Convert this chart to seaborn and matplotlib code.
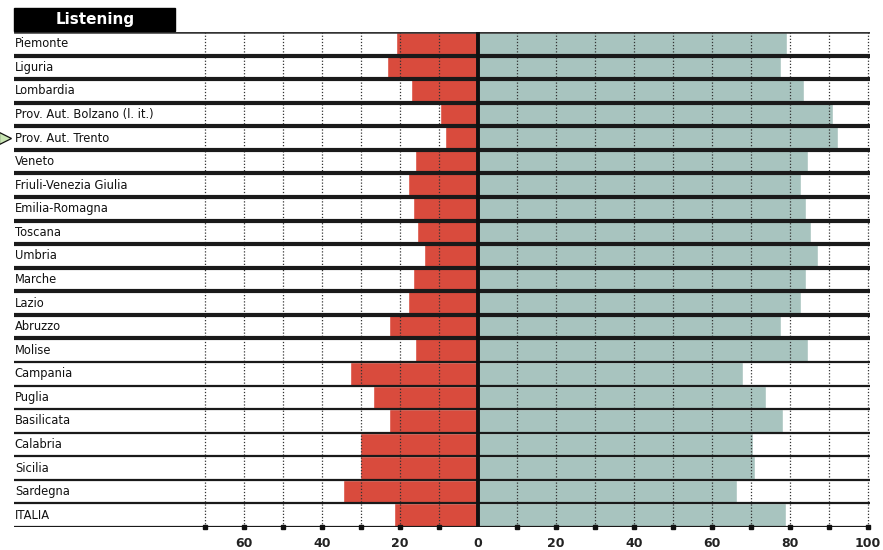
import pandas as pd
import matplotlib
matplotlib.use("Agg")
import matplotlib.pyplot as plt
import matplotlib.transforms as mtransforms
from matplotlib.patches import Rectangle
import seaborn as sns

# Data
regions = ["Piemonte", "Liguria", "Lombardia", "Prov. Aut. Bolzano (l. it.)",
           "Prov. Aut. Trento", "Veneto", "Friuli-Venezia Giulia", "Emilia-Romagna",
           "Toscana", "Umbria", "Marche", "Lazio", "Abruzzo", "Molise", "Campania",
           "Puglia", "Basilicata", "Calabria", "Sicilia", "Sardegna", "ITALIA"]
left_vals = [21.0, 23.3, 17.2, 9.7, 8.5, 16.2, 17.9, 16.7, 15.6, 13.8, 16.7,
             17.9, 22.8, 16.2, 32.8, 26.9, 22.8, 30.3, 30.3, 34.6, 21.5]
right_vals = [79.2, 77.7, 83.6, 91.1, 92.3, 84.6, 83.0, 84.3, 85.4, 87.2, 84.3,
              83.0, 77.7, 84.6, 68.0, 74.0, 78.2, 70.5, 71.0, 66.4, 79.0]
tick_pos = [-60, -40, -20, 0, 20, 40, 60, 80, 100]
tick_labels = ["60", "40", "20", "0", "20", "40", "60", "80", "100"]

red = "#d94b3d"
teal = "#a8c4bf"

df = pd.DataFrame({"region": regions,
                   "left": [-v for v in left_vals],
                   "right": right_vals})

sns.set_style("white")
plt.rcParams["font.family"] = ["DejaVu Sans"]

fig = plt.figure(figsize=(8.83, 5.5), dpi=100)
ax = fig.add_axes([14 / 883, 23 / 550, 856 / 883, 495 / 550])

sns.barplot(data=df, y="region", x="left", color=red, width=1.0,
            saturation=1, orient="h", ax=ax, zorder=1)
sns.barplot(data=df, y="region", x="right", color=teal, width=1.0,
            saturation=1, orient="h", ax=ax, zorder=1)

ax.set_xlim(-119, 100.6)
ax.set_ylim(len(regions) - 0.5, -0.5)

# dotted grid lines
for g in range(-70, 101, 10):
    if g == 0:
        continue
    ax.axvline(g, color="#333333", lw=0.9, ls=(0, (1, 1.5)), zorder=2)
    ax.plot([g], [len(regions) - 0.5], marker="s", ms=2.5, color="#111111",
            clip_on=False, zorder=4)

# row separators
n_thick = 13
for i in range(len(regions)):
    lw = 3.0 if i < n_thick else 1.6
    ax.axhline(i + 0.5, color="#1a1a1a", lw=lw, zorder=3)
ax.axhline(-0.5, color="#333333", lw=1.8, zorder=3)

# zero line
ax.axvline(0, color="#111111", lw=2.8, zorder=4)

# region labels
for i, name in enumerate(regions):
    ax.text(-118.8, i, name, ha="left", va="center", fontsize=8.3,
            color="#111111", zorder=5)

# arrow marker next to Trento
trans = mtransforms.blended_transform_factory(ax.transAxes, ax.transData)
ax.plot([-0.011], [regions.index("Prov. Aut. Trento")], marker=">", ms=8,
        mfc="#c9e6b4", mec="#111111", mew=0.9, transform=trans, clip_on=False)

ax.set_xticks(tick_pos)
ax.set_xticklabels(tick_labels, fontsize=9, fontweight="bold", color="#222222")
ax.tick_params(axis="x", length=0, pad=7)
ax.set_yticks([])
ax.set_xlabel("")
ax.set_ylabel("")
for s in ax.spines.values():
    s.set_visible(False)

# title box
fig.patches.append(Rectangle((14 / 883, 1 - 31 / 550), 161 / 883, 23 / 550,
                             transform=fig.transFigure, color="black"))
fig.text(95 / 883, 1 - 19.5 / 550, "Listening", color="white", fontsize=11,
         fontweight="bold", ha="center", va="center")

fig.savefig("out.png", dpi=100)
